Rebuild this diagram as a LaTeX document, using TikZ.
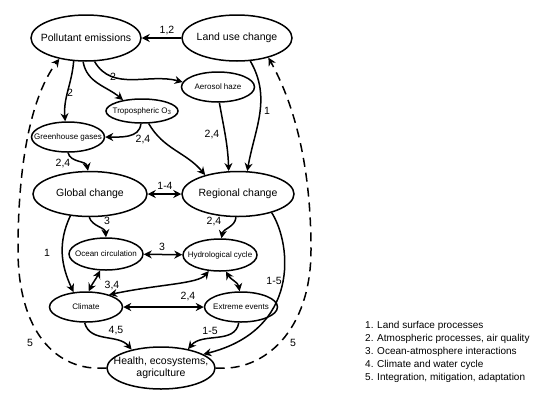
\documentclass[tikz,border=0pt]{standalone}
\usepackage{fontspec}
\setmainfont{Liberation Sans}
\usetikzlibrary{arrows.meta,shapes.geometric}
\begin{document}
\begin{tikzpicture}[x=1pt,y=-1pt,
  big/.style={ellipse,draw,line width=1.5pt,minimum width=110pt,minimum height=46pt,inner sep=-14pt,font=\fontsize{10.5}{12}\selectfont},
  small/.style={ellipse,draw,line width=1.5pt,minimum width=73pt,minimum height=30pt,inner sep=-14pt,font=\fontsize{8}{9}\selectfont},
  link/.style={line width=1.5pt,-{Stealth[length=8pt,width=8pt]}},
  dlink/.style={line width=1.5pt,{Stealth[length=8pt,width=8pt]}-{Stealth[length=8pt,width=8pt]}},
  dashlink/.style={line width=1.5pt,dash pattern=on 9pt off 6pt,-{Stealth[length=8pt,width=8pt]}},
  lab/.style={font=\fontsize{10.5}{12}\selectfont,inner sep=0pt},
]
\useasboundingbox (0,0) rectangle (556,405);

\node[big] (pe) at (86,38) {Pollutant emissions};
\node[big] (lu) at (237,38) {Land use change};
\node[small] (ah) at (218,87) {Aerosol haze};
\node[small,minimum width=72pt,minimum height=24pt] (to) at (142,111) {Tropospheric O\textsubscript{3}};
\node[small] (gg) at (68,137) {Greenhouse gases};
\node[big,minimum width=114pt,minimum height=45pt] (gc) at (90,194) {Global change};
\node[big,minimum width=112pt,minimum height=45pt] (rc) at (238,194) {Regional change};
\node[small,minimum width=74pt,minimum height=32pt] (oc) at (106,254) {Ocean circulation};
\node[small,minimum width=74pt,minimum height=32pt] (hc) at (220,255) {Hydrological cycle};
\node[small] (cl) at (86,307) {Climate};
\node[small] (ee) at (241,307) {Extreme events};
\node[big,minimum width=108pt,minimum height=42pt,align=center,inner sep=-20pt] (he) at (161,368) {Health, ecosystems,\\agriculture};

% edges
\draw[link] (lu) -- (pe);
\draw[link] (pe.242) to[out=-95,in=95] (gg.100);
\draw[link] (pe.263) to[out=-80,in=140] (to.150);
\draw[link] (pe.290) to[out=-60,in=165] (ah.172);
\draw[link] (to.265) to[out=-95,in=0] (gg.east);
\draw[link] (to.298) to[out=-60,in=130] (rc.150);
\draw[link] (ah.275) to[out=-80,in=92] (rc.112);
\draw[link] (lu.300) to[out=-60,in=80] (rc.68);
\draw[link] (gg.270) to[out=-75,in=100] (gc.95);
\draw[dlink] (gc) -- (rc);
\draw[link] (gc.268) to[out=-70,in=95] (oc.north);
\draw[link] (rc.265) to[out=-95,in=80] (hc.85);
\draw[dlink] (oc) -- (hc);
\draw[link] (gc.228) to[out=-115,in=115] (cl.130);
\draw[dlink] (oc.250) to[out=-115,in=65] (cl.80);
\draw[dlink] (hc.235) .. controls (198,284) and (160,284) .. (cl.28);
\draw[dlink] (cl.east) -- (ee.west);
\draw[dlink] (hc.290) to[out=-60,in=100] (ee.95);
\draw[link] (rc.331) .. controls (292,245) and (300,330) .. (he.18);
\draw[link] (cl.265) to[out=-75,in=130] (he.148);
\draw[link] (ee.262) to[out=-100,in=50] (he.35);
\draw[dashlink] (he.west) .. controls (55,372) and (18,330) .. (18,250) .. controls (18,160) and (32,95) .. (pe.218);
\draw[dashlink] (he.east) .. controls (265,372) and (311,330) .. (311,250) .. controls (311,160) and (292,100) .. (lu.328);

% labels
\node[lab] (l1) at (167,31) {1,2};
\node[lab] (l2) at (70,93) {2};
\node[lab] (l3) at (113,77) {2};
\node[lab] (l4) at (143,140) {2,4};
\node[lab] (l5) at (212,135) {2,4};
\node[lab] (l6) at (267,111) {1};
\node[lab] (l7) at (63,163) {2,4};
\node[lab] (l8) at (165,186) {1-4};
\node[lab] (l9) at (107,221) {3};
\node[lab] (l10) at (214,221) {2,4};
\node[lab] (l11) at (162,247) {3};
\node[lab] (l12) at (47,253) {1};
\node[lab] (l13) at (112,285) {3,4};
\node[lab] (l14) at (188,296) {2,4};
\node[lab] (l15) at (274,281) {1-5};
\node[lab] (l16) at (116,331) {4,5};
\node[lab] (l17) at (210,331) {1-5};
\node[lab] (l18) at (30,343) {5};
\node[lab] (l19) at (293,343) {5};

\node[anchor=north west,align=left,inner sep=0pt,font=\fontsize{10}{13}\selectfont] (legend) at (365,321)
 {1. Land surface processes\\2. Atmospheric processes, air quality\\3. Ocean-atmosphere interactions\\4. Climate and water cycle\\5. Integration, mitigation, adaptation};
\end{tikzpicture}
\end{document}
